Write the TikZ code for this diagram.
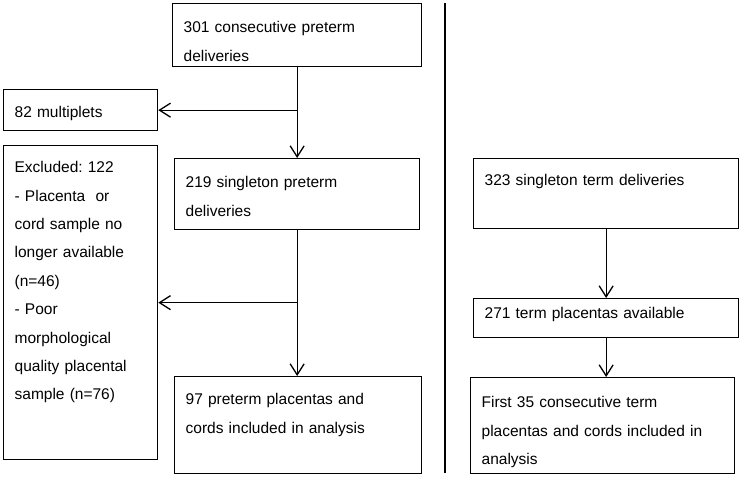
\documentclass[tikz,border=0pt]{standalone}
\usepackage{fontspec}
\setmainfont{Liberation Sans}
\usetikzlibrary{arrows.meta}
\frenchspacing

\begin{document}
\begin{tikzpicture}[x=1pt, y=-1pt, line width=1.3pt,
    box/.style 2 args={draw, anchor=north west, align=left, inner xsep=11pt, inner ysep=0pt,
        text height=#1, text depth=#2, font=\fontsize{15.5}{28.4}\selectfont},
    arr/.style={-{Straight Barb[length=11pt, width=14pt]}}]
        \useasboundingbox (0,0) rectangle (741,477);
        % preterm side
        \node[box={29pt}{34pt}, text width=227pt] (pre1) at (172,3) {301 consecutive preterm\\deliveries};
        \node[box={28pt}{13pt}, text width=132pt] (multi) at (3,89) {82 multiplets};
        \node[box={27pt}{287pt}, text width=132pt] (excl) at (3,145) {Excluded: 122\\- Placenta~ or\\cord sample no\\longer available\\(n=46)\\- Poor\\morphological\\quality placental\\sample (n=76)};
        \node[box={29pt}{42pt}, text width=223pt] (pre2) at (174,158) {219 singleton preterm\\deliveries};
        \node[box={28pt}{69pt}, text width=225pt] (pre3) at (174,376) {97 preterm placentas and\\cords included in analysis};
        % term side
        \node[box={27pt}{43pt}, text width=243pt] (term1) at (473,158) {323 singleton term deliveries};
        \node[box={20pt}{19pt}, text width=243pt] (term2) at (473,298) {271 term placentas available};
        \node[box={30pt}{66pt}, text width=242pt] (term3) at (470,377) {First 35 consecutive term\\placentas and cords included in\\analysis};
        % separator
        \coordinate (septop) at (445,3);
        \coordinate (sepbot) at (445,473);
        \draw (septop) -- (sepbot);
        % connectors
        \draw[arr] (pre1.south) -- (pre2.north);
        \draw[arr] (pre1.south |- multi.east) -- (multi.east);
        \draw[arr] (pre2.south) -- (pre2.south |- pre3.north);
        \draw[arr] (pre2.south |- excl.east) -- (excl.east);
        \draw[arr] (term1.south) -- (term2.north);
        \draw[arr] (term2.south) -- (term2.south |- term3.north);
    \end{tikzpicture}
\end{document}
